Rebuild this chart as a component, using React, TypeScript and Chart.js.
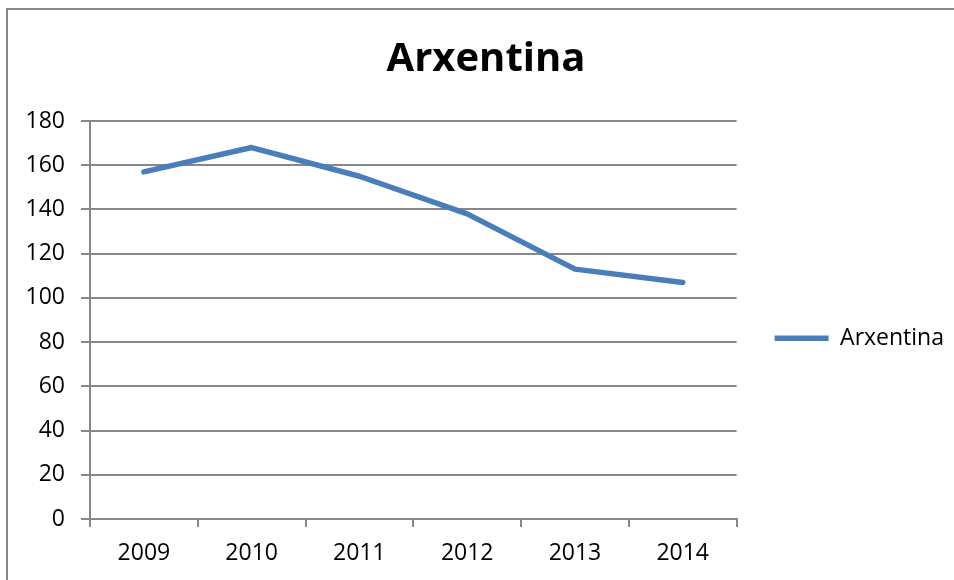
import React, { useEffect, useRef } from "react";
import { Chart, registerables } from "chart.js";

Chart.register(...registerables);

const years = ["2009", "2010", "2011", "2012", "2013", "2014"];
const arxentinaValues = [157, 168, 155, 138, 113, 107];
const seriesLabel = "Arxentina";
const chartTitle = "Arxentina";
const yMin = 0;
const yMax = 180;
const yStep = 20;

const GRAY = "#878787";
const BLUE = "#4a7ebb";
const FONT = "'Open Sans', 'Liberation Sans', sans-serif";

const frame = {
  id: "frame",
  beforeDraw(chart: any) {
    const ctx = chart.ctx;
    ctx.save();
    ctx.fillStyle = "#ffffff";
    ctx.fillRect(0, 0, chart.width, chart.height);
    ctx.fillStyle = GRAY;
    ctx.fillRect(6, 8, 2, chart.height - 8);
    ctx.fillRect(6, 8, chart.width - 6, 2);
    ctx.restore();
  },
};

export default function App() {
  const ref = useRef<HTMLCanvasElement | null>(null);
  useEffect(() => {
    if (!ref.current) return;
    const chart = new Chart(ref.current, {
      type: "line",
      data: {
        labels: years,
        datasets: [
          {
            label: seriesLabel,
            data: arxentinaValues,
            borderColor: BLUE,
            backgroundColor: BLUE,
            borderWidth: 5.5,
            borderCapStyle: "round",
            borderJoinStyle: "round",
            pointRadius: 0,
            tension: 0,
            fill: false,
          },
        ],
      },
      options: {
        animation: false,
        responsive: false,
        maintainAspectRatio: false,
        layout: { padding: { left: 18, right: 0, top: 0, bottom: 0 } },
        plugins: {
          title: {
            display: true,
            text: chartTitle,
            color: "#000",
            font: { family: FONT, size: 40, weight: "bold", lineHeight: 1.2 },
            padding: { top: 36, bottom: 37 },
          },
          legend: {
            position: "right",
            fullSize: false,
            title: { display: true, text: " ", font: { size: 2 }, padding: 17 },
            labels: {
              usePointStyle: true,
              pointStyle: "line",
              pointStyleWidth: 54,
              padding: 38,
              color: "#000",
              font: { family: FONT, size: 23 },
            },
          },
          tooltip: { enabled: false },
        },
        scales: {
          x: {
            offset: true,
            afterFit(scale: any) {
              scale.height = 61;
            },
            grid: {
              offset: true,
              drawOnChartArea: false,
              drawTicks: true,
              tickLength: 8,
              color: GRAY,
              lineWidth: 2,
            },
            border: { display: true, color: GRAY, width: 2 },
            ticks: {
              color: "#000",
              padding: 13,
              font: { family: FONT, size: 23 },
              maxRotation: 0,
            },
          },
          y: {
            min: yMin,
            max: yMax,
            afterFit(scale: any) {
              scale.width = 72;
            },
            grid: {
              color: GRAY,
              lineWidth: 2,
              tickLength: 9,
              drawTicks: true,
            },
            border: { display: true, color: GRAY, width: 2 },
            ticks: {
              stepSize: yStep,
              color: "#000",
              padding: 16,
              font: { family: FONT, size: 23 },
            },
          },
        },
      },
      plugins: [frame],
    });
    return () => chart.destroy();
  }, []);
  return (
    <div style={{ position: "absolute", left: 0, top: 0, width: 954, height: 580, background: "#fff" }}>
      <canvas ref={ref} width={954} height={580} style={{ display: "block", width: 954, height: 580 }} />
    </div>
  );
}
